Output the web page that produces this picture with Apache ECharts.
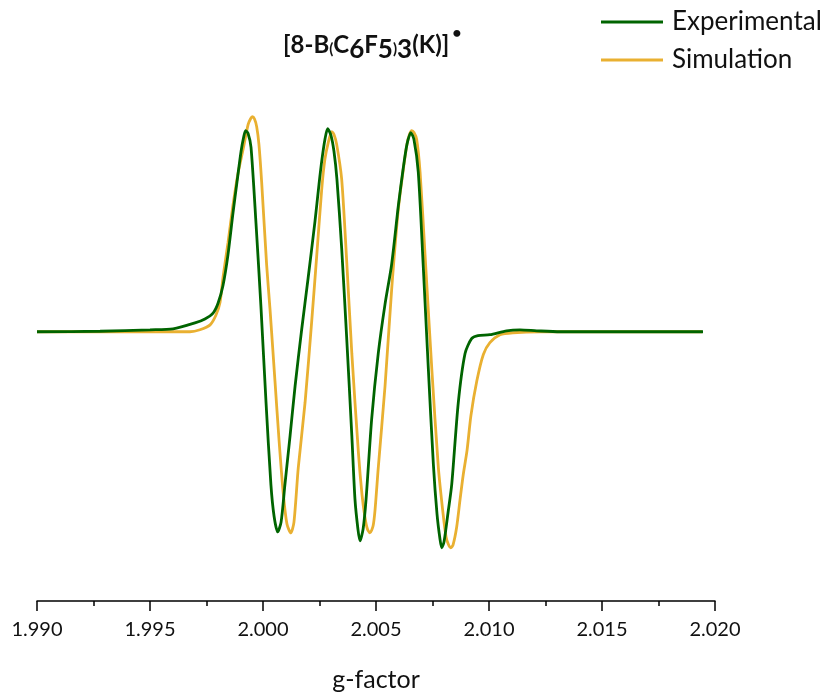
<!DOCTYPE html>
<html>
<head>
<meta charset="utf-8">
<script src="https://cdn.jsdelivr.net/npm/echarts@6/dist/echarts.min.js"></script>
<style>
html,body{margin:0;padding:0;background:#fff;}
#c{width:826px;height:697px;}
</style>
</head>
<body>
<div id="c"></div>
<script>
// g-factor values and signal intensities (arbitrary units)
const expG = [1.99000,1.99279,1.99500,1.99602,1.99699,1.99743,1.99779,1.99801,1.99823,1.99845,1.99867,1.99885,1.99903,1.99914,1.99923,1.99934,1.99947,1.99969,1.99991,2.00013,2.00035,2.00049,2.00065,2.00080,2.00097,2.00120,2.00142,2.00171,2.00200,2.00230,2.00248,2.00261,2.00274,2.00286,2.00301,2.00314,2.00327,2.00348,2.00370,2.00393,2.00407,2.00420,2.00429,2.00443,2.00456,2.00481,2.00510,2.00540,2.00569,2.00599,2.00620,2.00637,2.00654,2.00668,2.00687,2.00709,2.00731,2.00754,2.00770,2.00783,2.00791,2.00801,2.00819,2.00835,2.00864,2.00894,2.00923,2.00951,2.01004,2.01078,2.01137,2.01211,2.01314,2.01947];
const expI = [0,0.5,2,3,9,13,19,29,47,78,120,152,183,197,204,201,187,110,25,-70,-155,-187,-203,-193,-155,-105,-55,2,55,112,150,175,195,206,199,183,155,85,-5,-105,-170,-200,-212,-200,-170,-88,-22,28,68,128,165,190,202,195,162,67,-35,-135,-185,-210,-219,-213,-183,-155,-72,-22,-7,-4,-3,1,2,1,0,0];
const simG = [1.99000,1.99677,1.99721,1.99766,1.99792,1.99810,1.99823,1.99845,1.99867,1.99889,1.99912,1.99934,1.99945,1.99953,1.99962,1.99972,1.99982,1.99994,2.00016,2.00031,2.00053,2.00071,2.00090,2.00106,2.00123,2.00137,2.00156,2.00186,2.00216,2.00238,2.00260,2.00274,2.00289,2.00304,2.00314,2.00326,2.00348,2.00370,2.00393,2.00422,2.00438,2.00451,2.00462,2.00473,2.00487,2.00496,2.00510,2.00540,2.00569,2.00599,2.00621,2.00637,2.00648,2.00658,2.00668,2.00680,2.00695,2.00717,2.00747,2.00776,2.00797,2.00810,2.00821,2.00831,2.00841,2.00857,2.00872,2.00886,2.00903,2.00920,2.00946,2.00975,2.01004,2.01049,2.01106,2.01226,2.01943];
const simI = [0,0,2,7,17,30,55,90,128,160,185,210,216,218,216,208,190,152,68,23,-50,-110,-165,-195,-204,-193,-138,-72,12,78,145,175,192,203,200,190,155,73,-22,-122,-165,-188,-200,-204,-197,-180,-138,-55,42,125,165,190,200,204,202,195,162,78,-38,-138,-185,-208,-216,-219,-216,-198,-170,-145,-120,-85,-50,-23,-11,-3,-1,0,0];
const seriesNames = ['Experimental','Simulation'];
const xTicks = {min:1.990, max:2.020, interval:0.005};

const zip = (a,b) => a.map((v,i)=>[v,b[i]]);
const chart = echarts.init(document.getElementById('c'));
const FONT = 'Lato, "Open Sans", sans-serif';
chart.setOption({
  animation:false,
  title:{
    text:'{b|[8-B}{p|(}{b|C}{s|6}{b|F}{s|5}{p|)}{s|3}{b|(K)]}{d|•}',
    left:283, top:25, padding:0,
    textStyle:{
      rich:{
        b:{fontFamily:FONT,fontWeight:'bold',fontSize:24,color:'#111',verticalAlign:'bottom',lineHeight:32},
        p:{fontFamily:FONT,fontWeight:'bold',fontSize:15,color:'#111',verticalAlign:'bottom',lineHeight:32},
        s:{fontFamily:FONT,fontWeight:'bold',fontSize:26,color:'#111',verticalAlign:'bottom',lineHeight:32,padding:[0,0,-6,0]},
        d:{fontFamily:FONT,fontWeight:'bold',fontSize:16,color:'#111',verticalAlign:'top',lineHeight:32,padding:[0,0,16,3]}
      }
    }
  },
  legend:{
    orient:'vertical', left:601, top:9, padding:0,
    icon:'rect', itemWidth:62, itemHeight:3, itemGap:12,
    textStyle:{fontFamily:FONT,fontSize:26,lineHeight:26,color:'#111',padding:[0,0,0,4]},
    data:seriesNames
  },
  grid:{left:37,width:678,top:100,height:508},
  xAxis:{
    type:'value', min:xTicks.min, max:xTicks.max, interval:xTicks.interval,
    axisLine:{onZero:false,lineStyle:{color:'#000',width:1.5}},
    axisTick:{show:true,length:10,inside:false,lineStyle:{color:'#000',width:1.5}},
    minorTick:{show:true,splitNumber:2,length:5,lineStyle:{color:'#000',width:1.5}},
    splitLine:{show:false},
    axisLabel:{fontFamily:FONT,fontSize:20,color:'#111',margin:19,formatter:v=>v.toFixed(3)},
    name:'g-factor', nameLocation:'middle', nameGap:66,
    nameTextStyle:{fontFamily:FONT,fontSize:25,color:'#111'}
  },
  yAxis:{type:'value',min:-273,max:235,show:false},
  series:[
    {name:seriesNames[1],type:'line',data:zip(simG,simI),showSymbol:false,symbol:'none',smooth:0.25,
     lineStyle:{color:'#E9B031',width:2.8},itemStyle:{color:'#E9B031'},z:2},
    {name:seriesNames[0],type:'line',data:zip(expG,expI),showSymbol:false,symbol:'none',smooth:0.25,
     lineStyle:{color:'#006400',width:2.8},itemStyle:{color:'#006400'},z:3}
  ]
});
</script>
</body>
</html>
